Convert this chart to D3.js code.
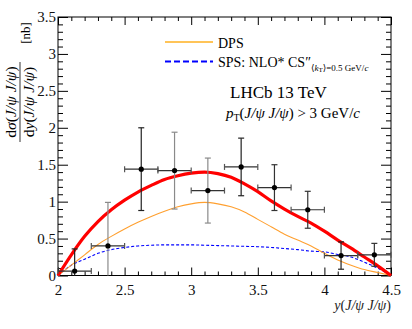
<!DOCTYPE html>
<html>
<head>
<meta charset="utf-8">
<script src="https://cdn.jsdelivr.net/npm/d3@7"></script>
<style>
  body { margin: 0; background: #fff; }
  svg { display: block; }
  svg text { font-family: "Liberation Serif", "DejaVu Serif", serif; }
</style>
</head>
<body>
<svg class="svg_parent"></svg>
<script>
// data points (LHCb 13 TeV)
const binCenters = [2.125, 2.375, 2.625, 2.875, 3.125, 3.375, 3.625, 3.875, 4.125, 4.375];
const binHalfWidth = 0.125;
const xsValues = [0.06, 0.40, 1.44, 1.42, 1.15, 1.47, 1.19, 0.89, 0.27, 0.28];
const xsErrors = [0.30, 0.59, 0.56, 0.52, 0.44, 0.39, 0.31, 0.25, 0.185, 0.155];
const barColors = ['#222', '#8a8a8a', '#222', '#8a8a8a', '#8a8a8a', '#222', '#333', '#333', '#222', '#333'];

// theory curves
const curveX = [2.0, 2.1, 2.2, 2.3, 2.4, 2.5, 2.6, 2.7, 2.8, 2.9, 3.0, 3.1, 3.2, 3.3, 3.4, 3.5, 3.6, 3.7, 3.8, 3.9, 4.0, 4.1, 4.2, 4.3, 4.4, 4.5];
const totalCurve = [0, 0.28, 0.53, 0.73, 0.89, 1.02, 1.13, 1.22, 1.30, 1.35, 1.385, 1.40, 1.38, 1.33, 1.24, 1.135, 1.01, 0.90, 0.80, 0.71, 0.60, 0.48, 0.37, 0.25, 0.13, 0];
const dpsCurve = [0, 0.14, 0.28, 0.42, 0.53, 0.63, 0.72, 0.80, 0.87, 0.93, 0.97, 0.99, 0.97, 0.93, 0.86, 0.76, 0.66, 0.56, 0.48, 0.40, 0.30, 0.21, 0.14, 0.08, 0.04, 0];
const spsCurve = [0, 0.14, 0.22, 0.30, 0.35, 0.38, 0.40, 0.41, 0.415, 0.415, 0.415, 0.41, 0.405, 0.40, 0.395, 0.39, 0.38, 0.365, 0.35, 0.33, 0.32, 0.285, 0.25, 0.18, 0.10, 0];

// ticks
const xTickLabels = [2, 2.5, 3, 3.5, 4, 4.5];
const yTickLabels = [0, 0.5, 1, 1.5, 2, 2.5, 3, 3.5];

const width = 412, height = 329;
const x0 = 58, x1 = 391, yTop = 17, yBot = 275.5;
const serif = '"Liberation Serif", "DejaVu Serif", serif';

var svg = d3.select('.svg_parent').attr('width', width).attr('height', height);
svg.append('rect').attr('width', width).attr('height', height).attr('fill', '#fff');

var x_scale = d3.scaleLinear().domain([2, 4.5]).range([x0, x1]);
var y_scale = d3.scaleLinear().domain([0, 3.5]).range([yBot, yTop]);

//minor ticks every 0.1
var xMinor = d3.range(20, 46).map(d => d / 10).filter(d => !xTickLabels.includes(d));
var yMinor = d3.range(0, 36).map(d => d / 10).filter(d => !yTickLabels.includes(d));

function addAxis(axisFn, scale, pos, major, minor, len, showLabels) {
  var g = svg.append('g').attr('transform', pos);
  g.call(axisFn(scale).tickValues(major).tickSizeInner(-len).tickSizeOuter(0)
    .tickFormat(showLabels ? d3.format('') : ''));
  g.append('g').call(axisFn(scale).tickValues(minor).tickSizeInner(-len / 2).tickSizeOuter(0).tickFormat(''));
  g.attr('font-family', serif);
  g.selectAll('g').attr('font-family', serif);
  g.selectAll('path.domain').remove();
  g.selectAll('line').attr('stroke', '#000').attr('stroke-width', 1);
  g.selectAll('text').attr('fill', '#111').attr('font-family', serif).style('font-size', '15px');
  return g;
}

var xb = addAxis(d3.axisBottom, x_scale, `translate(0,${yBot})`, xTickLabels, xMinor, 8, true);
xb.selectAll('text').attr('dy', '0.71em').attr('y', 9);
addAxis(d3.axisTop, x_scale, `translate(0,${yTop})`, xTickLabels, xMinor, 8, false);
var yl = addAxis(d3.axisLeft, y_scale, `translate(${x0},0)`, yTickLabels, yMinor, 10, true);
yl.selectAll('text').attr('x', -2);
addAxis(d3.axisRight, y_scale, `translate(${x1},0)`, yTickLabels, yMinor, 10, false);

// frame
svg.append('rect').attr('x', x0).attr('y', yTop).attr('width', x1 - x0).attr('height', yBot - yTop)
  .attr('fill', 'none').attr('stroke', '#000').attr('stroke-width', 1);

// curves
var lineGen = (vals) => d3.line()
  .x((d, i) => x_scale(curveX[i]))
  .y((d, i) => y_scale(vals[i]))
  .curve(d3.curveMonotoneX)(vals);

svg.append('path').attr('d', lineGen(spsCurve)).attr('fill', 'none')
  .attr('stroke', '#0000ff').attr('stroke-width', 1.1).attr('stroke-dasharray', '3,2');
svg.append('path').attr('d', lineGen(dpsCurve)).attr('fill', 'none')
  .attr('stroke', '#ffa030').attr('stroke-width', 1.1);
svg.append('path').attr('d', lineGen(totalCurve)).attr('fill', 'none')
  .attr('stroke', '#ff0000').attr('stroke-width', 3.2).attr('stroke-linejoin', 'round');

// data points with error bars
var pts = binCenters.map((c, i) => ({ x: c, y: xsValues[i], e: xsErrors[i], col: barColors[i] }));
var cap = 3;
var pg = svg.selectAll('.pt').data(pts).join('g').attr('class', 'pt');
pg.append('line')
  .attr('x1', d => x_scale(d.x)).attr('x2', d => x_scale(d.x))
  .attr('y1', d => y_scale(Math.max(0, d.y - d.e))).attr('y2', d => y_scale(d.y + d.e))
  .attr('stroke', d => d.col).attr('stroke-width', 1.2);
pg.append('line')
  .attr('x1', d => x_scale(d.x) - cap).attr('x2', d => x_scale(d.x) + cap)
  .attr('y1', d => y_scale(d.y + d.e)).attr('y2', d => y_scale(d.y + d.e))
  .attr('stroke', d => d.col).attr('stroke-width', 1.2);
pg.filter(d => d.y - d.e > 0).append('line')
  .attr('x1', d => x_scale(d.x) - cap).attr('x2', d => x_scale(d.x) + cap)
  .attr('y1', d => y_scale(d.y - d.e)).attr('y2', d => y_scale(d.y - d.e))
  .attr('stroke', d => d.col).attr('stroke-width', 1.2);
pg.append('line')
  .attr('x1', d => x_scale(d.x - binHalfWidth)).attr('x2', d => x_scale(d.x + binHalfWidth))
  .attr('y1', d => y_scale(d.y)).attr('y2', d => y_scale(d.y))
  .attr('stroke', '#333').attr('stroke-width', 1.2);
[-1, 1].forEach(s => {
  pg.append('line')
    .attr('x1', d => x_scale(d.x + s * binHalfWidth)).attr('x2', d => x_scale(d.x + s * binHalfWidth))
    .attr('y1', d => y_scale(d.y) - cap).attr('y2', d => y_scale(d.y) + cap)
    .attr('stroke', '#555').attr('stroke-width', 1.2);
});
pg.append('circle').attr('cx', d => x_scale(d.x)).attr('cy', d => y_scale(d.y)).attr('r', 2.6).attr('fill', '#000');

// legend
svg.append('line').attr('x1', 165).attr('x2', 213).attr('y1', 42).attr('y2', 42)
  .attr('stroke', '#ffb020').attr('stroke-width', 1.6);
svg.append('line').attr('x1', 165).attr('x2', 213).attr('y1', 61.5).attr('y2', 61.5)
  .attr('stroke', '#0000ff').attr('stroke-width', 2).attr('stroke-dasharray', '6,3');
svg.append('text').attr('x', 218).attr('y', 48).style('font-size', '14px').text('DPS');
var sps = svg.append('text').attr('x', 218).attr('y', 66.5).style('font-size', '14px');
sps.append('tspan').text('SPS: NLO* CS″');
sps.append('tspan').attr('dy', 4).style('font-size', '9px').text('⟨');
sps.append('tspan').style('font-size', '9px').style('font-style', 'italic').text('k');
sps.append('tspan').attr('dy', 1.5).style('font-size', '7px').text('T');
sps.append('tspan').attr('dy', -1.5).style('font-size', '9px').text('⟩=0.5 GeV/');
sps.append('tspan').style('font-size', '9px').style('font-style', 'italic').text('c');

// labels
svg.append('text').attr('x', 230).attr('y', 98).style('font-size', '17px').text('LHCb 13 TeV');
var pt = svg.append('text').attr('x', 226).attr('y', 118).style('font-size', '15px');
pt.append('tspan').style('font-style', 'italic').text('p');
pt.append('tspan').attr('dy', 3).style('font-size', '10px').text('T');
pt.append('tspan').attr('dy', -3).text('(');
pt.append('tspan').style('font-style', 'italic').text('J/ψ J/ψ');
pt.append('tspan').text(') > 3 GeV/');
pt.append('tspan').style('font-style', 'italic').text('c');

// x title
var xt = svg.append('text').attr('x', 391).attr('y', 310).attr('text-anchor', 'end').style('font-size', '14px').attr('fill', '#222');
xt.append('tspan').style('font-style', 'italic').text('y');
xt.append('tspan').text('(');
xt.append('tspan').style('font-style', 'italic').text('J/ψ J/ψ');
xt.append('tspan').text(')');

// y title (fraction, rotated)
var yt = svg.append('g').attr('transform', 'translate(20,102) rotate(-90)');
var num = yt.append('text').attr('x', 0).attr('y', -4).attr('text-anchor', 'middle').style('font-size', '15.5px');
num.append('tspan').text('d');
num.append('tspan').style('font-style', 'italic').text('σ');
num.append('tspan').text('(');
num.append('tspan').style('font-style', 'italic').text('J/ψ J/ψ');
num.append('tspan').text(')');
yt.append('line').attr('x1', -40).attr('x2', 40).attr('y1', 0).attr('y2', 0).attr('stroke', '#000').attr('stroke-width', 0.8);
var den = yt.append('text').attr('x', 0).attr('y', 14).attr('text-anchor', 'middle').style('font-size', '15.5px');
den.append('tspan').text('d');
den.append('tspan').style('font-style', 'italic').text('y');
den.append('tspan').text('(');
den.append('tspan').style('font-style', 'italic').text('J/ψ J/ψ');
den.append('tspan').text(')');
svg.append('text').attr('transform', 'translate(30,33) rotate(-90)').attr('text-anchor', 'middle')
  .style('font-size', '13px').text('[nb]');
</script>
</body>
</html>
